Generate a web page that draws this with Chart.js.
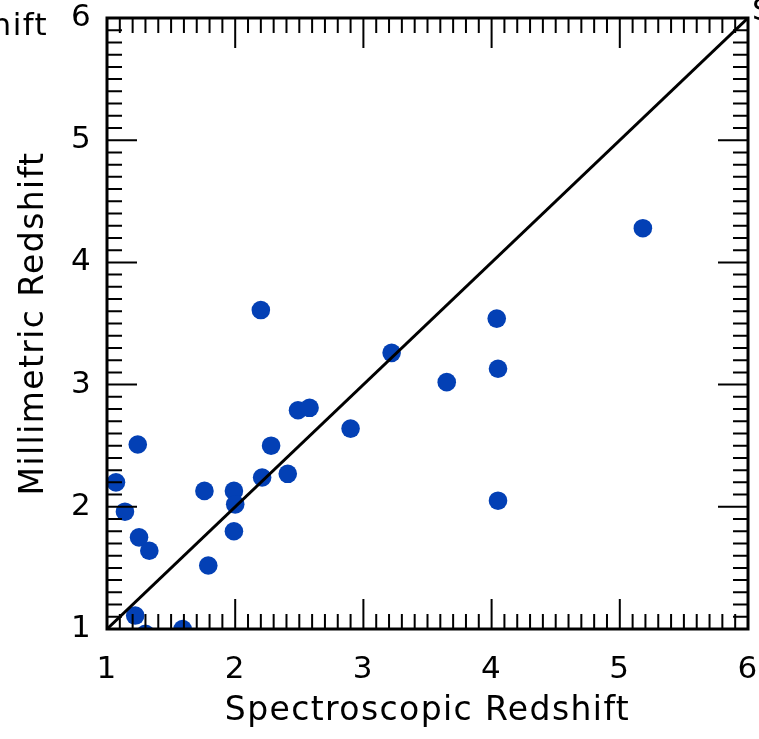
<!DOCTYPE html>
<html>
<head>
<meta charset="utf-8">
<script src="https://cdn.jsdelivr.net/npm/chart.js@4/dist/chart.umd.min.js"></script>
<style>
  html, body { margin: 0; padding: 0; background: #fff; }
  #wrap { width: 759px; height: 739px; }
</style>
</head>
<body>
<div id="wrap"><canvas id="chart" width="759" height="739"></canvas></div>
<script>
// values
const specZ = [1.07, 1.14, 1.24, 1.25, 1.33, 1.22, 1.30, 1.59, 1.76, 1.79, 1.99, 2.00, 1.99,
  2.20, 2.21, 2.28, 2.41, 2.49, 2.58, 2.90, 3.22, 3.65, 4.04, 4.05, 4.05, 5.18];
const mmZ = [2.20, 1.96, 2.51, 1.75, 1.64, 1.11, 0.96, 1.00, 2.13, 1.52, 2.13, 2.02, 1.80,
  3.61, 2.24, 2.50, 2.27, 2.79, 2.81, 2.64, 3.26, 3.02, 3.54, 3.13, 2.05, 4.28];
const oneToOne = [1, 6];
const axisMin = 1, axisMax = 6;

const FONT = "'DejaVu Sans', sans-serif";

// inward ticks on all four sides + box frame
const frameTicks = {
  id: 'frameTicks',
  beforeDraw(chart) {
    chart.ctx.letterSpacing = '1.4px';
  },
  afterDatasetsDraw(chart) {
    const { ctx, chartArea: a, scales: { x, y } } = chart;
    ctx.save();
    ctx.strokeStyle = '#000';
    ctx.lineWidth = 2;
    ctx.beginPath();
    for (let i = axisMin * 10; i <= axisMax * 10; i++) {
      const len = i % 10 === 0 ? 30 : 15;
      const px = x.getPixelForValue(i / 10);
      ctx.moveTo(px, a.bottom); ctx.lineTo(px, a.bottom - len);
      ctx.moveTo(px, a.top); ctx.lineTo(px, a.top + len);
      const py = y.getPixelForValue(i / 10);
      ctx.moveTo(a.left, py); ctx.lineTo(a.left + len, py);
      ctx.moveTo(a.right, py); ctx.lineTo(a.right - len, py);
    }
    ctx.stroke();
    ctx.lineWidth = 3;
    ctx.strokeRect(a.left, a.top, a.right - a.left, a.bottom - a.top);
    ctx.restore();
  },
  afterDraw(chart) {
    // cut-off labels from neighbouring panels
    const ctx = chart.ctx;
    ctx.save();
    ctx.fillStyle = '#000';
    ctx.font = '31px ' + FONT;
    ctx.textAlign = 'right';
    ctx.textBaseline = 'alphabetic';
    ctx.fillText('Redshift', 48, 35);
    ctx.textAlign = 'left';
    ctx.fillText('S', 752, 20);
    ctx.restore();
  }
};

new Chart(document.getElementById('chart'), {
  type: 'scatter',
  data: {
    datasets: [
      {
        type: 'line',
        data: oneToOne.map(v => ({ x: v, y: v })),
        borderColor: '#000',
        borderWidth: 3,
        pointRadius: 0,
        fill: false,
        order: 0
      },
      {
        data: specZ.map((v, i) => ({ x: v, y: mmZ[i] })),
        backgroundColor: '#0340b5',
        borderWidth: 0,
        pointRadius: 9.3,
        pointHoverRadius: 9.3,
        clip: 0,
        order: 1
      }
    ]
  },
  options: {
    responsive: false,
    animation: false,
    layout: { padding: { top: 18, right: 11, left: 0, bottom: 0 } },
    plugins: {
      legend: { display: false },
      tooltip: { enabled: false }
    },
    scales: {
      x: {
        type: 'linear',
        min: axisMin,
        max: axisMax,
        afterFit(scale) {
          scale.height = 110;
          scale.paddingLeft = 0;
          scale.paddingRight = 0;
        },
        border: { display: false },
        grid: { display: false, drawTicks: false },
        ticks: {
          stepSize: 1,
          padding: 22,
          color: '#000',
          font: { family: FONT, size: 31 }
        },
        title: {
          display: true,
          text: 'Spectroscopic Redshift',
          color: '#000',
          font: { family: FONT, size: 33 },
          padding: { top: 0, bottom: 8 }
        }
      },
      y: {
        type: 'linear',
        min: axisMin,
        max: axisMax,
        afterFit(scale) {
          scale.width = 107;
          scale.paddingTop = 0;
          scale.paddingBottom = 0;
        },
        border: { display: false },
        grid: { display: false, drawTicks: false },
        ticks: {
          stepSize: 1,
          padding: 15,
          color: '#000',
          font: { family: FONT, size: 31 }
        },
        title: {
          display: true,
          text: 'Millimetric Redshift',
          color: '#000',
          font: { family: FONT, size: 33 },
          padding: { top: 15, bottom: 0 }
        }
      }
    }
  },
  plugins: [frameTicks]
});
</script>
</body>
</html>
